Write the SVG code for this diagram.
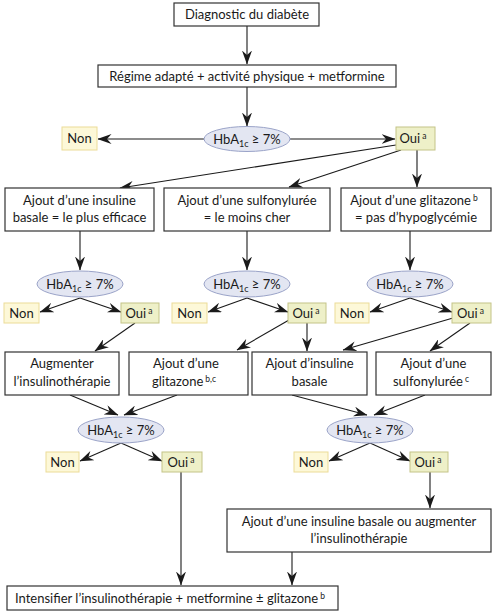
<svg xmlns="http://www.w3.org/2000/svg" width="495" height="614" viewBox="0 0 495 614">
<defs>
<style>
text{font-family:Lato,"Open Sans","Liberation Sans",sans-serif;font-size:13px;fill:#1a1a1a;text-anchor:middle}
.box{fill:#fff;stroke:#333;stroke-width:1.2}
.ell{fill:#e3e6f2;stroke:#9aa3c8;stroke-width:1}
.non{fill:#fdf8d8;stroke:#ebdc98;stroke-width:1}
.oui{fill:#eef0c8;stroke:#c4c488;stroke-width:1}
.sup{font-size:8.5px}
.sub{font-size:9px}
#connectors line{stroke:#1a1a1a;stroke-width:1.1;fill:none}
.arr{marker-end:url(#ah)}
</style>
<marker id="ah" viewBox="0 0 14 10" refX="13.5" refY="5" markerWidth="14" markerHeight="10" markerUnits="userSpaceOnUse" orient="auto">
<path d="M0,0 L14,5 L0,10 L4.5,5 z" fill="#1a1a1a"/>
</marker>
</defs>

<g id="connectors">
<line class="arr" x1="247" y1="26" x2="247" y2="64"/>
<line class="arr" x1="247" y1="87" x2="247" y2="126"/>
<line class="arr" x1="204" y1="139" x2="98" y2="139"/>
<line class="arr" x1="290" y1="139" x2="395" y2="139"/>
<line class="arr" x1="396" y1="145" x2="120" y2="188"/>
<line class="arr" x1="401" y1="150" x2="289" y2="187"/>
<line class="arr" x1="417" y1="150" x2="417" y2="187"/>
<line class="arr" x1="80" y1="231" x2="80" y2="270"/>
<line class="arr" x1="247" y1="231" x2="247" y2="270"/>
<line class="arr" x1="410" y1="231" x2="410" y2="270"/>
<line class="arr" x1="80" y1="298" x2="40" y2="312"/>
<line class="arr" x1="80" y1="298" x2="121" y2="312"/>
<line class="arr" x1="247" y1="298" x2="208" y2="312"/>
<line class="arr" x1="247" y1="298" x2="288" y2="312"/>
<line class="arr" x1="410" y1="298" x2="370" y2="312"/>
<line class="arr" x1="410" y1="298" x2="452" y2="312"/>
<line class="arr" x1="135" y1="323" x2="95" y2="351"/>
<line class="arr" x1="289" y1="320" x2="237" y2="350"/>
<line class="arr" x1="307" y1="323" x2="307" y2="351"/>
<line class="arr" x1="453" y1="318" x2="343" y2="350"/>
<line class="arr" x1="470" y1="323" x2="430" y2="351"/>
<line class="arr" x1="70" y1="395" x2="118" y2="415"/>
<line class="arr" x1="177" y1="395" x2="124" y2="415"/>
<line class="arr" x1="292" y1="395" x2="367" y2="415"/>
<line class="arr" x1="425" y1="395" x2="374" y2="415"/>
<line class="arr" x1="121" y1="443" x2="80" y2="461"/>
<line class="arr" x1="121" y1="443" x2="162" y2="461"/>
<line class="arr" x1="370" y1="443" x2="329" y2="461"/>
<line class="arr" x1="370" y1="443" x2="410" y2="461"/>
<line class="arr" x1="181" y1="472" x2="181" y2="585"/>
<line class="arr" x1="430" y1="472" x2="430" y2="508"/>
<line class="arr" x1="292" y1="552" x2="292" y2="585"/>
</g>

<g id="diagnostic"><rect class="box" x="174" y="3" width="145" height="23"/><text x="247" y="19">Diagnostic du diabète</text></g>
<g id="regime"><rect class="box" x="98" y="65" width="298" height="22"/><text x="247" y="81">Régime adapté + activité physique + metformine</text></g>

<g id="hba1"><ellipse class="ell" cx="247" cy="139" rx="43" ry="12.5"/><text x="247" y="144">HbA<tspan class="sub" dy="3">1c</tspan><tspan dy="-3"> ≥ 7%</tspan></text></g>
<g id="non0"><rect class="non" x="62" y="127" width="35" height="23"/><text x="79.5" y="143">Non</text></g>
<g id="oui0"><rect class="oui" x="396" y="127" width="39" height="23"/><text x="413" y="143">Oui<tspan class="sup" dx="2" dy="-4">a</tspan></text></g>

<g id="b1"><rect class="box" x="5" y="188" width="149" height="43"/><text x="79.5" y="205">Ajout d’une insuline</text><text x="79.5" y="222">basale = le plus efficace</text></g>
<g id="b2"><rect class="box" x="164" y="188" width="166" height="43"/><text x="247" y="205">Ajout d’une sulfonylurée</text><text x="247" y="222">= le moins cher</text></g>
<g id="b3"><rect class="box" x="341" y="188" width="150" height="43"/><text x="414" y="205">Ajout d’une glitazone<tspan class="sup" dx="2" dy="-4">b</tspan></text><text x="416" y="222">= pas d’hypoglycémie</text></g>

<g id="hba2"><ellipse class="ell" cx="80" cy="284" rx="43" ry="13"/><text x="80" y="289">HbA<tspan class="sub" dy="3">1c</tspan><tspan dy="-3"> ≥ 7%</tspan></text></g>
<g id="hba3"><ellipse class="ell" cx="247" cy="284" rx="43" ry="13"/><text x="247" y="289">HbA<tspan class="sub" dy="3">1c</tspan><tspan dy="-3"> ≥ 7%</tspan></text></g>
<g id="hba4"><ellipse class="ell" cx="410" cy="284" rx="43" ry="13"/><text x="410" y="289">HbA<tspan class="sub" dy="3">1c</tspan><tspan dy="-3"> ≥ 7%</tspan></text></g>

<g id="non1"><rect class="non" x="4" y="303" width="35" height="20"/><text x="21.5" y="318">Non</text></g>
<g id="oui1"><rect class="oui" x="121" y="303" width="38" height="20"/><text x="139" y="318">Oui<tspan class="sup" dx="2" dy="-4">a</tspan></text></g>
<g id="non2"><rect class="non" x="172" y="303" width="35" height="20"/><text x="189.5" y="318">Non</text></g>
<g id="oui2"><rect class="oui" x="288" y="303" width="38" height="20"/><text x="306" y="318">Oui<tspan class="sup" dx="2" dy="-4">a</tspan></text></g>
<g id="non3"><rect class="non" x="335" y="303" width="34" height="20"/><text x="352" y="318">Non</text></g>
<g id="oui3"><rect class="oui" x="452" y="303" width="39" height="20"/><text x="470.5" y="318">Oui<tspan class="sup" dx="2" dy="-4">a</tspan></text></g>

<g id="c1"><rect class="box" x="5" y="352" width="114" height="43"/><text x="62" y="368">Augmenter</text><text x="62" y="386">l’insulinothérapie</text></g>
<g id="c2"><rect class="box" x="129" y="352" width="119" height="43"/><text x="186" y="368">Ajout d’une</text><text x="184" y="386">glitazone<tspan class="sup" dx="2" dy="-4">b,c</tspan></text></g>
<g id="c3"><rect class="box" x="252" y="352" width="115" height="43"/><text x="309.5" y="368">Ajout d’insuline</text><text x="309.5" y="386">basale</text></g>
<g id="c4"><rect class="box" x="376" y="352" width="115" height="43"/><text x="433.5" y="368">Ajout d’une</text><text x="431" y="386">sulfonylurée<tspan class="sup" dx="2" dy="-4">c</tspan></text></g>

<g id="hba5"><ellipse class="ell" cx="121" cy="430" rx="43" ry="13"/><text x="121" y="435">HbA<tspan class="sub" dy="3">1c</tspan><tspan dy="-3"> ≥ 7%</tspan></text></g>
<g id="hba6"><ellipse class="ell" cx="370" cy="430" rx="43" ry="13"/><text x="370" y="435">HbA<tspan class="sub" dy="3">1c</tspan><tspan dy="-3"> ≥ 7%</tspan></text></g>

<g id="non4"><rect class="non" x="46" y="452" width="33" height="20"/><text x="62.5" y="467">Non</text></g>
<g id="oui4"><rect class="oui" x="162" y="452" width="40" height="20"/><text x="181" y="467">Oui<tspan class="sup" dx="2" dy="-4">a</tspan></text></g>
<g id="non5"><rect class="non" x="294" y="452" width="34" height="20"/><text x="311" y="467">Non</text></g>
<g id="oui5"><rect class="oui" x="410" y="452" width="38" height="20"/><text x="428" y="467">Oui<tspan class="sup" dx="2" dy="-4">a</tspan></text></g>

<g id="e1"><rect class="box" x="227" y="509" width="264" height="43"/><text x="359" y="526">Ajout d’une insuline basale ou augmenter</text><text x="359" y="543">l’insulinothérapie</text></g>
<g id="final"><rect class="box" x="7" y="586" width="331" height="24"/><text x="170" y="603">Intensifier l’insulinothérapie + metformine ± glitazone<tspan class="sup" dx="2" dy="-4">b</tspan></text></g>
</svg>
